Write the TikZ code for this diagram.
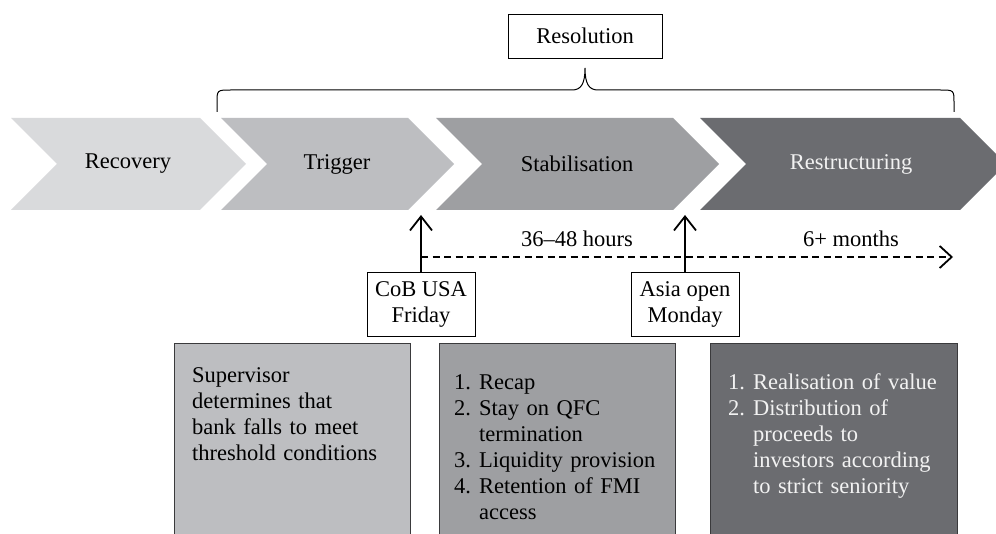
\documentclass[tikz,border=0pt]{standalone}
\usepackage{fontspec}
\setmainfont{Liberation Serif}
\usetikzlibrary{arrows.meta}
\definecolor{cRec}{HTML}{D9DADC}
\definecolor{cTrig}{HTML}{BDBEC1}
\definecolor{cStab}{HTML}{9E9FA2}
\definecolor{cRest}{HTML}{6B6C70}
\definecolor{cEdge}{HTML}{3A3A3C}
\definecolor{cLight}{HTML}{F2F2F2}
\newcommand\myitem[2]{\par\noindent\makebox[25pt][l]{#1}#2}
\newcommand\mycont[1]{\par\noindent\hspace*{25pt}#1}
\begin{document}
\begin{tikzpicture}[x=1pt,y=-1pt,
  font=\fontsize{22.5}{26}\selectfont,
  lbl/.style={inner sep=0pt},
  framebox/.style={draw=black,line width=0.9pt,fill=white,inner sep=0pt,align=center},
  panel/.style={draw=cEdge,line width=1pt,anchor=north west,inner sep=0pt,minimum height=230pt},
  paneltext/.style={anchor=north west,inner sep=0pt,align=left},
  uparrow/.style={line width=2pt,-{Straight Barb[length=14pt,width=22pt,line width=1.8pt]}},
  timeline/.style={line width=1.8pt,dash pattern=on 7pt off 4.5pt,-{Straight Barb[length=12pt,width=22pt,line width=1.8pt]}}
]
\useasboundingbox (0,0) rectangle (996,534);
\fill[white] (0,0) rectangle (996,534);

% chevrons
\fill[cRec]  (11,118) -- (200,118) -- (246,164) -- (200,210) -- (11,210) -- (57,164) -- cycle;
\fill[cTrig] (221,118) -- (408,118) -- (454,164) -- (408,210) -- (221,210) -- (267,164) -- cycle;
\fill[cStab] (436,118) -- (673,118) -- (719,164) -- (673,210) -- (436,210) -- (482,164) -- cycle;
\fill[cRest] (700,118) -- (960,118) -- (1006,164) -- (960,210) -- (700,210) -- (746,164) -- cycle;

\node[lbl] (recovery) at (128,164) {Recovery};
\node[lbl] (trigger) at (337,164) {Trigger};
\node[lbl] (stabil) at (577,164) {Stabilisation};
\node[lbl,text=cLight] (restruct) at (851,164) {Restructuring};

% brace and resolution
\node[framebox,minimum width=154pt,minimum height=44pt] (resolution) at (585,36) {Resolution};
\draw[line width=1pt] (217,112) -- (217,103) .. controls (217,90) and (217,90) .. (231,90) -- (572,90)
  .. controls (581,90) and (585,84) .. (585,68)
  .. controls (585,84) and (589,90) .. (598,90) -- (940,90)
  .. controls (954,90) and (954,90) .. (954,103) -- (954,112);

% time boxes and arrows
\node[framebox,minimum width=108pt,minimum height=64pt] (cob) at (421,304) {CoB USA\\Friday};
\node[framebox,minimum width=108pt,minimum height=64pt] (asia) at (685,304) {Asia open\\Monday};
\coordinate (cobtip) at (421,215);
\coordinate (asiatip) at (685,215);
\draw[uparrow] (cob.north) -- (cobtip);
\draw[uparrow] (asia.north) -- (asiatip);
\coordinate (dstart) at (421,257);
\coordinate (dend) at (953,257);
\draw[timeline] (dstart) -- (dend);
\node[lbl,anchor=base] (hours) at (577,247) {36–48 hours};
\node[lbl,anchor=base] (months) at (851,247) {6+ months};

% panels
\node[panel,fill=cTrig,minimum width=236pt] (p1) at (174,343) {};
\node[panel,fill=cStab,minimum width=236pt] (p2) at (439,343) {};
\node[panel,fill=cRest,minimum width=247pt] (p3) at (710,343) {};

\node[paneltext,text width=215pt] (t1) at (192,363.8) {\strut Supervisor\\determines that\\bank falls to meet\\threshold conditions};
\node[paneltext,text width=215pt] (t2) at (454,363.8) {%
  \myitem{\strut 1.}{Recap}%
  \myitem{2.}{Stay on QFC}%
  \mycont{termination}%
  \myitem{3.}{Liquidity provision}%
  \myitem{4.}{Retention of FMI}%
  \mycont{access}};
\node[paneltext,text width=225pt,text=cLight] (t3) at (728,363.8) {%
  \myitem{\strut 1.}{Realisation of value}%
  \myitem{2.}{Distribution of}%
  \mycont{proceeds to}%
  \mycont{investors according}%
  \mycont{to strict seniority}};
\end{tikzpicture}
\end{document}
